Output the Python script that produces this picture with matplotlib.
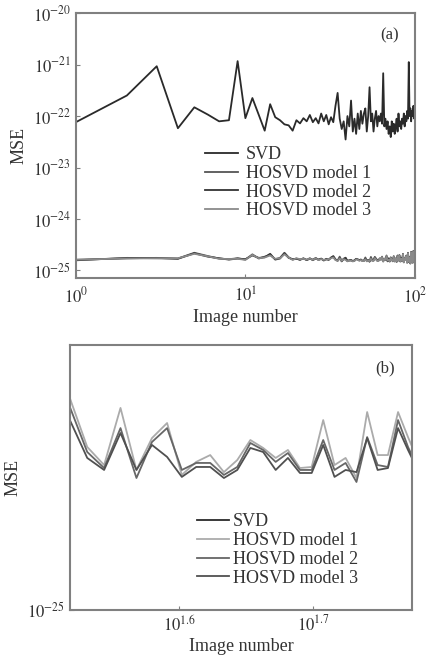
"""MSE of SVD vs HOSVD models per image number, panels (a) and (b)."""

import matplotlib
matplotlib.use("Agg")
import matplotlib.pyplot as plt
import numpy as np

plt.rcParams["font.family"] = ["Liberation Serif", "DejaVu Serif"]
plt.rcParams["mathtext.fontset"] = "stix"

# image numbers 1..100
image_number = np.arange(1, 101)

# SVD MSE, units of 1e-22
svd_mse = np.array([
    0.76, 2.51, 9.3, 0.58, 1.48, 1.07, 0.79, 0.83, 11.7, 0.91,
    2.24, 1.05, 0.52, 1.70, 0.95, 0.83, 0.69, 0.66, 0.52, 0.83,
    0.72, 0.91, 0.79, 1.05, 0.76, 0.91, 0.72, 1.12, 0.79, 1.05,
    0.69, 0.95, 0.76, 1.58, 2.82, 0.89, 0.56, 0.79, 0.35, 1.00,
    0.63, 2.00, 0.50, 0.89, 0.45, 1.12, 0.56, 1.26, 0.71, 1.12,
    1.41, 0.50, 1.00, 3.63, 0.79, 1.12, 0.50, 0.89, 1.26, 0.63,
    1.00, 0.79, 1.12, 0.71, 6.8, 0.63, 0.89, 0.56, 0.79, 0.45,
    0.63, 0.39, 0.79, 0.50, 0.71, 0.45, 0.63, 0.89, 0.50, 1.12,
    0.63, 0.79, 0.56, 0.89, 0.71, 1.12, 0.63, 1.00, 0.79, 1.26,
    0.89, 11.2, 1.00, 1.41, 0.79, 1.26, 1.00, 1.58, 0.89, 1.12,
]) * 1e-22

# HOSVD MSE, units of 1e-25
hosvd1_mse = np.array([
    1.57, 1.75, 1.72, 1.70, 2.20, 1.90, 1.70, 1.65, 1.72, 1.62,
    2.05, 1.70, 1.85, 2.00, 1.65, 1.75, 2.20, 1.80, 1.62, 1.70,
    1.60, 1.72, 1.58, 1.68, 1.62, 1.75, 1.60, 1.70, 1.55, 1.68,
    1.62, 1.75,
    1.905, 1.642, 1.554, 1.849, 1.531, 1.687, 1.766, 1.508, 1.569, 1.602,
    1.521, 1.578, 1.677, 1.637, 1.588, 1.627, 1.540, 1.545, 1.782, 1.554,
    1.588, 1.494, 1.826, 1.602, 1.602, 1.826, 1.692, 1.578,
    1.55, 1.72, 1.60, 1.85, 1.50, 1.70, 1.58, 1.95, 1.52, 1.65,
    1.48, 1.80, 1.60, 1.55, 1.90, 1.50, 1.72, 1.45, 1.85, 1.60,
    2.00, 1.48, 1.70, 1.55, 2.10, 1.45, 1.75, 1.60, 1.95, 1.40,
    2.20, 1.50, 1.70, 1.35, 2.30, 1.55, 1.40, 2.40, 1.50, 1.90,
]) * 1e-25

hosvd2_mse = np.array([
    1.60, 1.72, 1.75, 1.68, 2.15, 1.85, 1.72, 1.62, 1.70, 1.65,
    1.95, 1.75, 1.80, 2.10, 1.62, 1.70, 2.15, 1.75, 1.65, 1.68,
    1.62, 1.70, 1.60, 1.72, 1.58, 1.70, 1.62, 1.68, 1.58, 1.65,
    1.60, 1.78,
    1.854, 1.617, 1.540, 1.739, 1.494, 1.667, 1.739, 1.531, 1.564, 1.564,
    1.508, 1.545, 1.662, 1.627, 1.569, 1.612, 1.531, 1.531, 1.677, 1.531,
    1.564, 1.476, 1.692, 1.554, 1.545, 1.782, 1.642, 1.540,
    1.60, 1.65, 1.70, 1.75, 1.55, 1.62, 1.65, 1.85, 1.50, 1.72,
    1.52, 1.70, 1.65, 1.50, 1.80, 1.55, 1.65, 1.50, 1.95, 1.55,
    1.90, 1.52, 1.75, 1.50, 2.00, 1.48, 1.70, 1.65, 1.85, 1.45,
    2.10, 1.45, 1.80, 1.40, 2.20, 1.50, 1.45, 2.30, 1.55, 1.80,
]) * 1e-25

hosvd3_mse = np.array([
    1.62, 1.70, 1.72, 1.72, 2.10, 1.88, 1.68, 1.66, 1.68, 1.60,
    2.00, 1.72, 1.78, 1.95, 1.68, 1.72, 2.05, 1.78, 1.60, 1.72,
    1.65, 1.68, 1.62, 1.70, 1.60, 1.72, 1.58, 1.66, 1.60, 1.62,
    1.64, 1.72,
    1.782, 1.588, 1.531, 1.713, 1.531, 1.652, 1.593, 1.499, 1.545, 1.545,
    1.494, 1.531, 1.637, 1.617, 1.531, 1.588, 1.517, 1.517, 1.652, 1.499,
    1.531, 1.521, 1.687, 1.531, 1.540, 1.739, 1.627, 1.531,
    1.52, 1.70, 1.62, 1.80, 1.48, 1.68, 1.60, 1.90, 1.55, 1.62,
    1.50, 1.75, 1.58, 1.52, 1.85, 1.48, 1.70, 1.48, 1.90, 1.58,
    1.95, 1.50, 1.68, 1.52, 2.05, 1.42, 1.72, 1.58, 1.90, 1.42,
    2.15, 1.48, 1.75, 1.38, 2.25, 1.52, 1.42, 2.35, 1.48, 1.85,
]) * 1e-25

series_labels = ["SVD", "HOSVD model 1", "HOSVD model 2", "HOSVD model 3"]
colors_a = ["#2a2a2a", "#555555", "#333333", "#8a8a8a"]
colors_b = ["#2a2a2a", "#ababab", "#666666", "#505050"]

a_yticks = [1e-20, 1e-21, 1e-22, 1e-23, 1e-24, 1e-25]
a_yticklabels = [r"$10^{-20}$", r"$10^{-21}$", r"$10^{-22}$",
                 r"$10^{-23}$", r"$10^{-24}$", r"$10^{-25}$"]
a_xticks = [1, 10, 100]
a_xticklabels = [r"$10^{0}$", r"$10^{1}$", r"$10^{2}$"]
b_xticks = [10 ** 1.6, 10 ** 1.7]
b_xticklabels = [r"$10^{1.6}$", r"$10^{1.7}$"]
b_yticks = [1e-25]
b_yticklabels = [r"$10^{-25}$"]

text_color = "#333333"
spine_color = "#808080"

fig = plt.figure(figsize=(4.26, 6.59), dpi=100)
ax_a = fig.add_axes([0.178, 0.578, 0.796, 0.402])
ax_b = fig.add_axes([0.164, 0.0744, 0.803, 0.402])

all_series = [svd_mse, hosvd1_mse, hosvd2_mse, hosvd3_mse]

for ax, colors in ((ax_a, colors_a), (ax_b, colors_b)):
    for y, lab, c in zip(all_series, series_labels, colors):
        ax.plot(image_number, y, color=c, linewidth=1.3, label=lab)
    ax.set_xscale("log")
    ax.set_yscale("log")
    ax.minorticks_off()
    for sp in ax.spines.values():
        sp.set_color(spine_color)
        sp.set_linewidth(1.5)
    ax.tick_params(direction="in", length=3, colors=spine_color,
                   labelcolor=text_color, labelsize=12)
    ax.set_xlabel("Image number", fontsize=13, color=text_color, labelpad=2)
    ax.set_ylabel("MSE", fontsize=13, color=text_color)

ax_a.set_xlim(1, 100)
ax_a.set_ylim(10 ** -25.15, 1e-20)
ax_a.set_xticks(a_xticks)
ax_a.set_xticklabels(a_xticklabels)
ax_a.set_yticks(a_yticks)
ax_a.set_yticklabels(a_yticklabels)
ax_a.minorticks_off()
ax_a.tick_params(axis="x", pad=6)
ax_a.text(0.926, 0.917, "(a)", transform=ax_a.transAxes, fontsize=12,
          color=text_color, ha="center", va="center")
ax_a.legend(loc="center left", bbox_to_anchor=(0.355, 0.36), frameon=False,
            fontsize=13, handlelength=1.8, handletextpad=0.45,
            labelspacing=0.1, borderpad=0, labelcolor=text_color)

ax_b.set_xlim(33, 59.4)
ax_b.set_ylim(1e-25, 10 ** -24.65)
ax_b.set_xticks(b_xticks)
ax_b.set_xticklabels(b_xticklabels)
ax_b.set_yticks(b_yticks)
ax_b.set_yticklabels(b_yticklabels)
ax_b.minorticks_off()
ax_b.text(0.921, 0.913, "(b)", transform=ax_b.transAxes, fontsize=12,
          color=text_color, ha="center", va="center")
ax_b.legend(loc="center left", bbox_to_anchor=(0.345, 0.226), frameon=False,
            fontsize=13, handlelength=1.8, handletextpad=0.2,
            labelspacing=0.1, borderpad=0, labelcolor=text_color)

fig.savefig("out.png", dpi=100)
